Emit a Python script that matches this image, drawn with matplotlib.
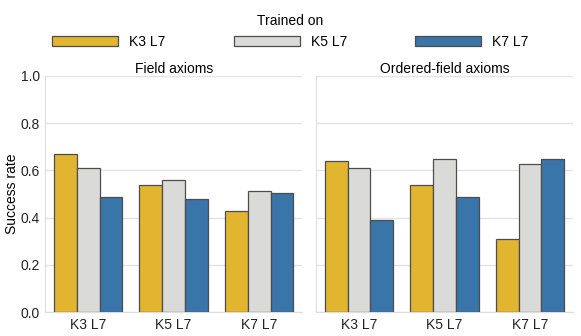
import matplotlib.pyplot as plt
import numpy as np

plt.rcParams['font.family'] = ['Liberation Sans', 'DejaVu Sans']
plt.rcParams['font.size'] = 10

categories = ["K3 L7", "K5 L7", "K7 L7"]
trained_on = ["K3 L7", "K5 L7", "K7 L7"]
titles = ["Field axioms", "Ordered-field axioms"]
colors = ["#E1B52F", "#DADBD9", "#3A75AA"]

# rows: trained on, columns: evaluated category
field = [[0.668, 0.539, 0.428],
         [0.609, 0.559, 0.514],
         [0.489, 0.479, 0.503]]
ordered = [[0.638, 0.539, 0.309],
           [0.610, 0.648, 0.628],
           [0.389, 0.489, 0.647]]

fig, axes = plt.subplots(1, 2, figsize=(5.81, 3.36), dpi=100, sharey=True)
fig.subplots_adjust(left=0.078, right=0.986, bottom=0.071, top=0.774, wspace=0.055)

index = np.arange(len(categories))
bar_width = 0.8 / 3
for ax, data, title in zip(axes, [field, ordered], titles):
    for i, name in enumerate(trained_on):
        ax.bar(index - 0.4 + bar_width * (i + 0.5), data[i], bar_width,
               color=colors[i], edgecolor="0.3", linewidth=0.9, label=name, zorder=3)
    ax.set_title(title, fontsize=10, pad=2)
    ax.set_xticks(index, categories)
    ax.set_xlim(-0.5, 2.5)
    ax.set_ylim(0, 1.0)
    ax.set_yticks([0, 0.2, 0.4, 0.6, 0.8, 1.0])
    ax.grid(axis="y", color="#e2e2e2", linewidth=1, zorder=0)
    for s in ["top", "right"]:
        ax.spines[s].set_visible(False)
    for s in ["left", "bottom"]:
        ax.spines[s].set_color("#dddddd")
    ax.tick_params(length=0, labelsize=10, colors="#222222", pad=4)

axes[0].set_ylabel("Success rate", fontsize=10, labelpad=1)

handles, labels = axes[0].get_legend_handles_labels()
fig.legend(handles, labels, title="Trained on", ncol=3, loc="upper center",
           bbox_to_anchor=(0.5, 0.995), frameon=False, handlelength=4.75,
           handleheight=0.7, handletextpad=0.8, columnspacing=4.9,
           fontsize=10, title_fontsize=10)

plt.savefig("out.png", dpi=100)
